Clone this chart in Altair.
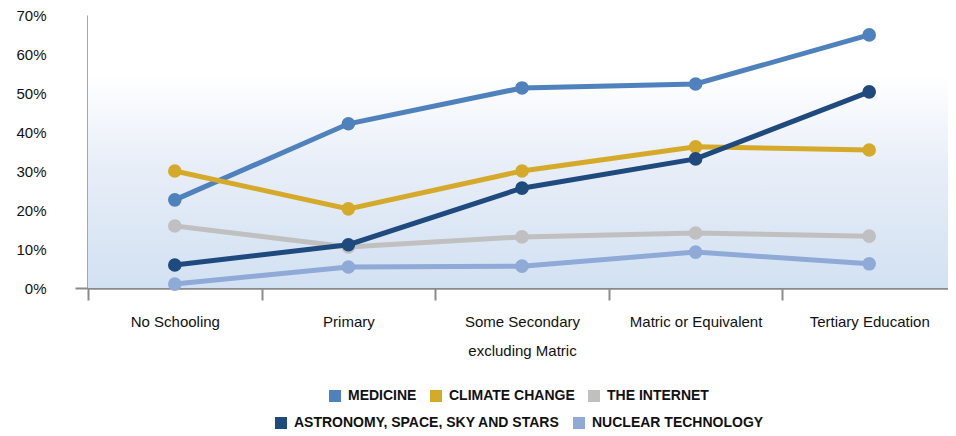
import altair as alt
import pandas as pd

categories = ["No Schooling", "Primary", "Some Secondary|excluding Matric",
              "Matric or Equivalent", "Tertiary Education"]
series_row1 = ["MEDICINE", "CLIMATE CHANGE", "THE INTERNET"]
series_row2 = ["ASTRONOMY, SPACE, SKY AND STARS", "NUCLEAR TECHNOLOGY"]
medicine = [22.6, 42.1, 51.3, 52.3, 64.9]
climate_change = [30.0, 20.3, 30.0, 36.2, 35.4]
the_internet = [15.9, 10.5, 13.1, 14.1, 13.3]
astronomy = [5.9, 11.1, 25.6, 33.1, 50.3]
nuclear = [1.0, 5.4, 5.6, 9.2, 6.2]
colors_row1 = ["#4f81bd", "#d5aa2b", "#c0c0c0"]
colors_row2 = ["#1f4a7e", "#8faad6"]
y_ticks = [0, 10, 20, 30, 40, 50, 60, 70]

values = {
    "MEDICINE": medicine,
    "CLIMATE CHANGE": climate_change,
    "THE INTERNET": the_internet,
    "ASTRONOMY, SPACE, SKY AND STARS": astronomy,
    "NUCLEAR TECHNOLOGY": nuclear,
}
rows = []
for s, vals in values.items():
    for c, v in zip(categories, vals):
        rows.append({"category": c, "series": s, "value": v})
df = pd.DataFrame(rows)

FONT = "Liberation Sans Narrow, Liberation Sans, Arial, sans-serif"
GRAY = "#8a8a8a"

x_enc = alt.X(
    "category:N", sort=categories, title=None,
    scale=alt.Scale(type="band", paddingInner=0, paddingOuter=0, range=[0, 868]),
    axis=alt.Axis(labelAngle=0, tickBand="extent", tickSize=12, tickWidth=2,
                  tickColor=GRAY, domainColor=GRAY, domainWidth=2.5,
                  labelPadding=14, labelLineHeight=29, labelFontSize=15,
                  labelFont=FONT, labelColor="#111",
                  labelExpr="split(datum.label, '|')"),
)
y_enc = alt.Y(
    "value:Q", title=None,
    scale=alt.Scale(domain=[0, 70], nice=False),
    axis=alt.Axis(values=y_ticks, labelExpr="datum.value + '%'", grid=False,
                  tickSize=13, tickWidth=2,
                  tickColor={"condition": {"test": "datum.value === 0", "value": GRAY},
                             "value": "transparent"},
                  labelPadding=29, domainColor=GRAY, domainWidth=2.5,
                  labelFontSize=15, labelFont=FONT, labelColor="#111"),
)

background = alt.Chart(pd.DataFrame({"a": [0]})).mark_rect(
    color=alt.Gradient(
        gradient="linear", x1=0, y1=0, x2=0, y2=1,
        stops=[alt.GradientStop(offset=0, color="#ffffff"),
               alt.GradientStop(offset=0.22, color="#ffffff"),
               alt.GradientStop(offset=0.55, color="#e8eef8"),
               alt.GradientStop(offset=1, color="#d2e1f2")],
    )
).encode(x=alt.value(0), x2=alt.value("width"), y=alt.value(0), y2=alt.value("height"))


def group(series, colors, lx, ly):
    color = alt.Color(
        "series:N", sort=series,
        scale=alt.Scale(domain=series, range=colors),
        legend=alt.Legend(title=None, orient="none", direction="horizontal",
                          legendX=lx, legendY=ly),
    )
    base = alt.Chart(df).transform_filter(
        alt.FieldOneOfPredicate(field="series", oneOf=series)
    )
    line = base.mark_line(strokeWidth=5).encode(x=x_enc, y=y_enc, color=color,
                                                  detail="series:N")
    pts = base.mark_point(filled=True, size=185, opacity=1).encode(
        x=x_enc, y=y_enc, color=color)
    return alt.layer(line, pts)


chart = alt.layer(
    background,
    group(series_row1, colors_row1, 240, 374),
    group(series_row2, colors_row2, 186, 401),
).resolve_scale(color="independent").resolve_legend(color="independent").properties(
    width=860, height=273,
    autosize=alt.AutoSizeParams(type="none"),
    padding={"left": 80, "top": 7, "right": 0, "bottom": 141},
).configure_view(
    stroke=None,
).configure_legend(
    symbolType="square", symbolSize=144, symbolStrokeWidth=0,
    labelFont="Liberation Sans, Arial, sans-serif", labelFontWeight="bold",
    labelFontSize=14, labelColor="#111", columnPadding=12, labelOffset=6,
    labelLimit=0,
)

chart.save("out.html", embed_options={"renderer": "svg", "actions": False})
